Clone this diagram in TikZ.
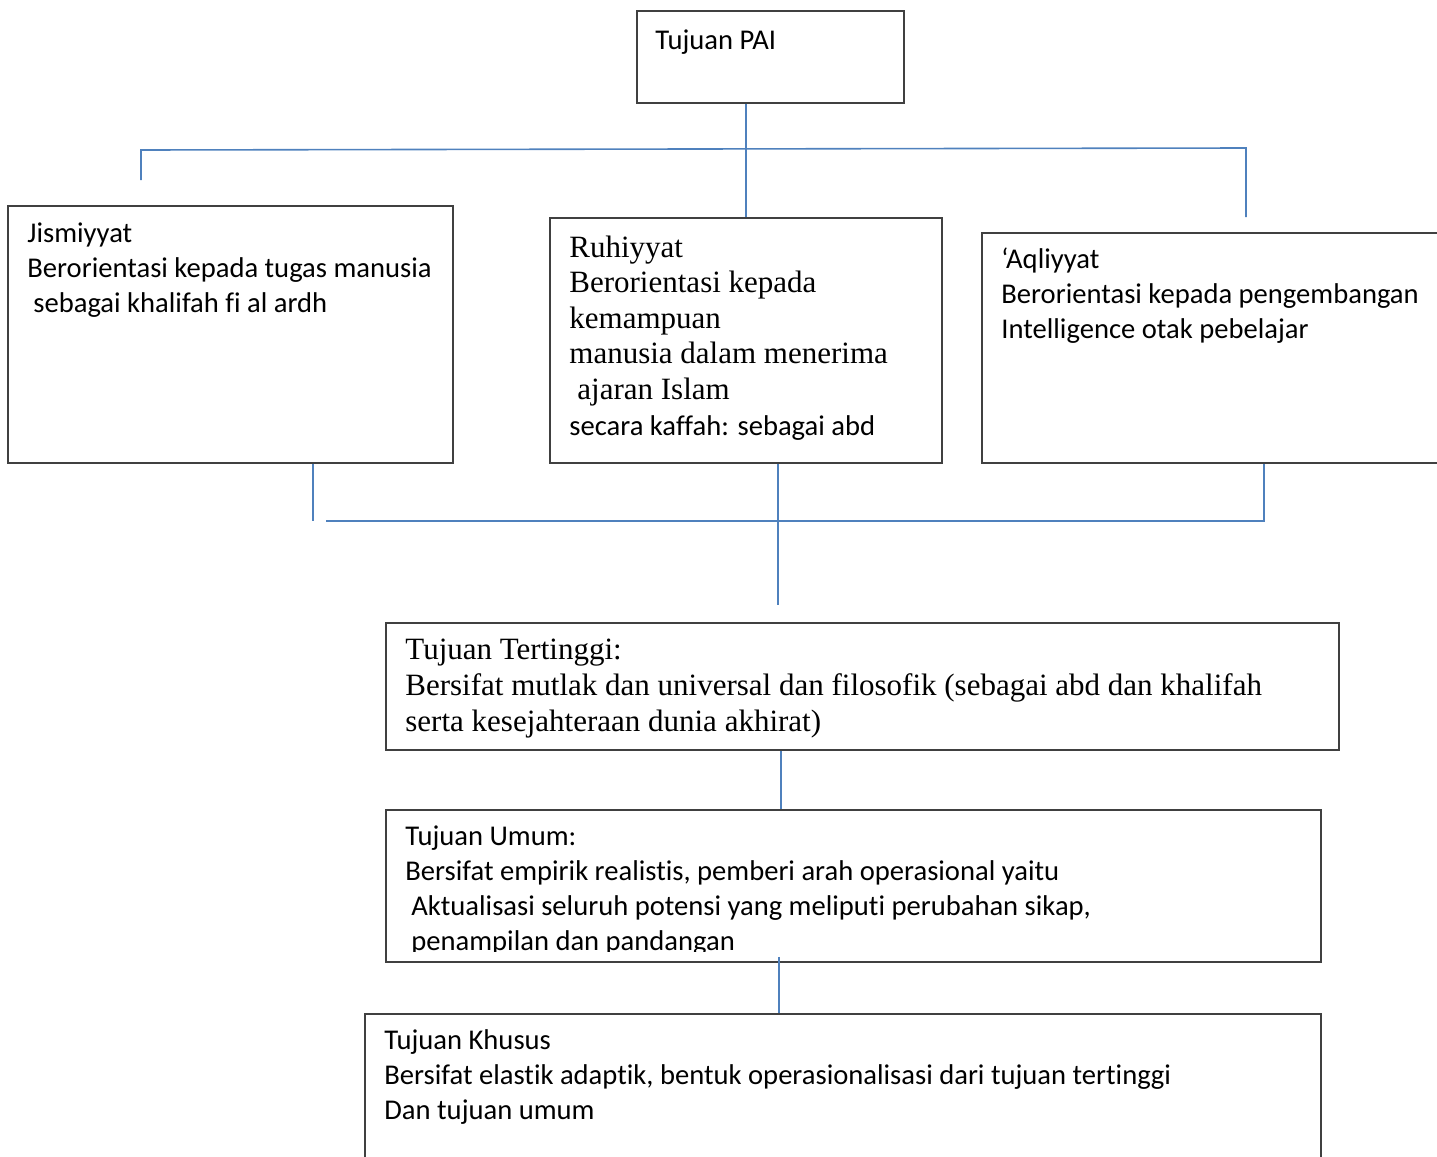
\documentclass[tikz,border=0pt]{standalone}
\usepackage{fontspec}
\setmainfont{Carlito}[Ligatures=NoCommon]
\newfontfamily\timesfont{Liberation Serif}

\begin{document}
\begin{tikzpicture}[x=0.5pt,y=-0.5pt,
  box/.style={draw=black!75,line width=0.9pt,anchor=north west,inner sep=0pt},
  link/.style={draw=linkblue,line width=0.8pt},
  txt/.style={anchor=base west,inner sep=0pt,align=left,font=\fontsize{14.3pt}{17.5pt}\selectfont},
  serif/.style={txt,font=\timesfont\fontsize{15.5pt}{17.8pt}\selectfont}]
\definecolor{linkblue}{HTML}{4F81BD}
\useasboundingbox (0,0) rectangle (1437,1157);
  \foreach \nm/\x/\y/\w/\h in {pai/636/10/267/92,jis/7/205/445/257,ruh/549/217/392/245,
      aql/981/232/480/230,ting/385/622/953/127,umum/385/809/935/152,khusus/364/1013/956/200}
  {  \node [box,minimum width=\w*0.5pt,minimum height=\h*0.5pt] (\nm) at (\x,\y) {};}
% texts (placed at the baseline of their last line)
\node [txt] (pait) at (655,49) {Tujuan PAI};
\node [txt] (jist) at (27,312) {Jismiyyat\\Berorientasi kepada tugas manusia\\\hspace*{3pt}sebagai khalifah fi al ardh};
\node [serif] (ruht) at (569,435) {Ruhiyyat\\Berorientasi kepada\\kemampuan\\manusia dalam menerima\\\hspace*{4pt}ajaran Islam\\{\rmfamily\fontsize{14.3pt}{17.5pt}\selectfont secara kaffah: sebagai abd}};
\node [txt] (aqlt) at (1001,338) {‘Aqliyyat\\Berorientasi kepada pengembangan\\Intelligence otak pebelajar};
\node [serif] (tingt) at (405,731) {Tujuan Tertinggi:\\Bersifat mutlak dan universal dan filosofik (sebagai abd dan khalifah\\serta kesejahteraan dunia akhirat)};
\begin{scope}
  \clip (385,809) rectangle (1320,951);
  \node [txt] (umumt) at (405,950) {Tujuan Umum:\\Bersifat empirik realistis, pemberi arah operasional yaitu\\\hspace*{3pt}Aktualisasi seluruh potensi yang meliputi perubahan sikap,\\\hspace*{3pt}penampilan dan pandangan};
\end{scope}
\node [txt] (khusust) at (384,1119) {Tujuan Khusus\\Bersifat elastik adaptik, bentuk operasionalisasi dari tujuan tertinggi\\Dan tujuan umum};
% connectors
\coordinate (tl) at (141,150);
\coordinate (tr) at (1246,148);
\coordinate (tld) at (141,180);
\draw [link] (ruh.north |- pai.south) -- (ruh.north);
\draw [link] (tld) -- (tl) -- (tr) -- (tr |- ruh.north);
\coordinate (bl) at (313,521);
\coordinate (bm) at (326,521);
\coordinate (br) at (1264,521);
\coordinate (bc) at (778,605);
\draw [link] (bl |- jis.south) -- (bl);
\draw [link] (bm) -- (br) -- (br |- aql.south);
\draw [link] (bc |- ruh.south) -- (bc);
\coordinate (ax1) at (781,780);
\coordinate (ax2) at (779,990);
\draw [link] (ax1 |- ting.south) -- (ax1 |- umum.north);
\draw [link] ([yshift=3pt]ax2 |- umum.south) -- (ax2 |- khusus.north);
\end{tikzpicture}
\end{document}
